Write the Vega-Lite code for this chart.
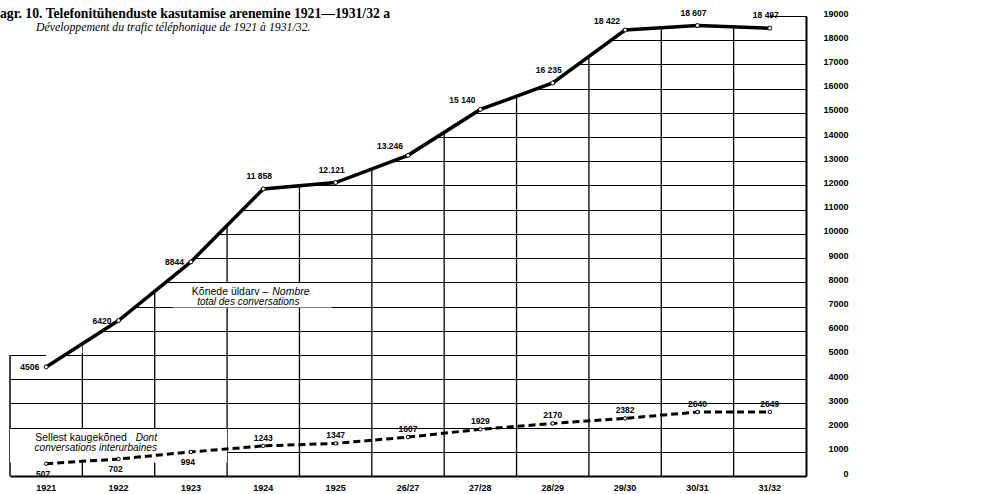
{
  "$schema": "https://vega.github.io/schema/vega-lite/v6.json",
  "width": 796,
  "height": 460,
  "autosize": {"type": "none"},
  "padding": {"left": 10, "top": 16, "right": 193, "bottom": 18},
  "background": "white",
  "title": {
    "text": "agr. 10. Telefonitühenduste kasutamise arenemine 1921—1931/32 a",
    "anchor": "start",
    "frame": "group",
    "offset": -12,
    "dx": -10,
    "font": "Liberation Serif",
    "fontSize": 13.7,
    "fontWeight": "bold",
    "color": "black"
  },
  "config": {"view": {"stroke": null}},
  "datasets": {
    "d": [
      {"cat": "1921", "total": 4506, "tl": "4506", "inter": 507},
      {"cat": "1922", "total": 6420, "tl": "6420", "inter": 702},
      {"cat": "1923", "total": 8844, "tl": "8844", "inter": 994},
      {"cat": "1924", "total": 11858, "tl": "11 858", "inter": 1243},
      {"cat": "1925", "total": 12121, "tl": "12.121", "inter": 1347},
      {"cat": "26/27", "total": 13246, "tl": "13.246", "inter": 1607},
      {"cat": "27/28", "total": 15140, "tl": "15 140", "inter": 1929},
      {"cat": "28/29", "total": 16235, "tl": "16 235", "inter": 2170},
      {"cat": "29/30", "total": 18422, "tl": "18 422", "inter": 2382},
      {"cat": "30/31", "total": 18607, "tl": "18 607", "inter": 2640},
      {"cat": "31/32", "total": 18497, "tl": "18 497", "inter": 2649}
    ]
  },
  "layer": [
    {
      "data": {"name": "d"},
      "transform": [{"filter": "datum.cat !== '1921'"}],
      "mark": {"type": "rule", "color": "black", "strokeWidth": 1.3},
      "encoding": {
        "x": {
          "field": "cat", "type": "ordinal", "bandPosition": 0, "sort": null, "title": null,
          "scale": {"domain": ["1921","1922","1923","1924","1925","26/27","27/28","28/29","29/30","30/31","31/32"], "paddingInner": 0, "paddingOuter": 0},
          "axis": {"title": null, "orient": "bottom", "domainColor": "black", "domainWidth": 2, "ticks": false, "grid": false, "labelAngle": 0, "labelFont": "Liberation Sans", "labelFontWeight": "bold", "labelFontSize": 9, "labelColor": "black", "labelPadding": 7}
        },
        "y": {
          "datum": 0, "type": "quantitative",
          "scale": {"domain": [0, 19000], "nice": false},
          "axis": {"title": null, "orient": "right", "values": [0,1000,2000,3000,4000,5000,6000,7000,8000,9000,10000,11000,12000,13000,14000,15000,16000,17000,18000,19000], "tickCount": 40, "labelOverlap": false, "format": "d", "grid": true, "gridColor": "black", "gridWidth": 1.2, "gridOpacity": 1, "domainColor": "black", "domainWidth": 2, "ticks": false, "labelAlign": "right", "labelPadding": 42, "labelFont": "Liberation Sans", "labelFontWeight": "bold", "labelFontSize": 9, "labelColor": "black", "labelOffset": -3}
        },
        "y2": {"datum": 19000}
      }
    },
    {
      "data": {"values": [{}]},
      "mark": {"type": "rule", "color": "black", "strokeWidth": 1.5},
      "encoding": {
        "x": {"datum": "1921", "type": "ordinal", "bandPosition": 0},
        "y": {"datum": 0, "type": "quantitative"},
        "y2": {"datum": 5000}
      }
    },
    {
      "data": {"name": "d"},
      "mark": {"type": "area", "fill": "white", "strokeWidth": 0},
      "encoding": {
        "x": {"field": "cat", "type": "ordinal", "sort": null, "title": null},
        "y": {"field": "total", "type": "quantitative", "title": null},
        "y2": {"datum": 19000}
      }
    },
    {
      "data": {"values": [{}]},
      "mark": {"type": "rect", "fill": "white"},
      "encoding": {
        "x": {"datum": "1921", "type": "ordinal"},
        "y": {"datum": 5060, "type": "quantitative"},
        "y2": {"datum": 19000}
      }
    },
    {
      "data": {"values": [{}]},
      "mark": {"type": "rect", "fill": "white"},
      "encoding": {
        "x": {"datum": "1921", "type": "ordinal", "bandPosition": 0},
        "x2": {"datum": "1923", "bandPosition": 1},
        "y": {"datum": 560, "type": "quantitative"},
        "y2": {"datum": 1940}
      }
    },
    {
      "data": {"values": [{}]},
      "mark": {"type": "rect", "fill": "white"},
      "encoding": {
        "x": {"datum": "1923", "type": "ordinal", "bandPosition": 0.25},
        "x2": {"datum": "1925", "bandPosition": 0.45},
        "y": {"datum": 6960, "type": "quantitative"},
        "y2": {"datum": 7960}
      }
    },
    {
      "data": {"values": [{"t": "Développement du trafic téléphonique de 1921 à 1931/32."}]},
      "mark": {"type": "text", "align": "left", "baseline": "alphabetic", "dx": 26, "dy": 15, "font": "Liberation Serif", "fontStyle": "italic", "fontSize": 11.8, "color": "black"},
      "encoding": {
        "x": {"datum": "1921", "type": "ordinal", "bandPosition": 0},
        "y": {"datum": 19000, "type": "quantitative"},
        "text": {"field": "t"}
      }
    },
    {
      "data": {"name": "d"},
      "mark": {"type": "line", "color": "black", "strokeWidth": 3.5},
      "encoding": {
        "x": {"field": "cat", "type": "ordinal", "sort": null, "title": null},
        "y": {"field": "total", "type": "quantitative", "title": null}
      }
    },
    {
      "data": {"name": "d"},
      "mark": {"type": "point", "shape": "circle", "filled": true, "fill": "white", "stroke": "black", "strokeWidth": 1, "size": 16, "opacity": 1},
      "encoding": {
        "x": {"field": "cat", "type": "ordinal", "sort": null, "title": null},
        "y": {"field": "total", "type": "quantitative", "title": null}
      }
    },
    {
      "data": {"name": "d"},
      "transform": [{"filter": {"field": "cat", "oneOf": ["1921", "1922", "1923"]}}],
      "mark": {"type": "text", "align": "right", "baseline": "middle", "dx": -7, "dy": 0, "font": "Liberation Sans", "fontWeight": "bold", "fontSize": 8.5, "color": "black"},
      "encoding": {
        "x": {"field": "cat", "type": "ordinal", "sort": null, "title": null},
        "y": {"field": "total", "type": "quantitative", "title": null},
        "text": {"field": "tl"}
      }
    },
    {
      "data": {"name": "d"},
      "transform": [{"filter": {"field": "cat", "oneOf": ["1924", "1925", "28/29", "30/31", "31/32"]}}],
      "mark": {"type": "text", "align": "center", "baseline": "middle", "dx": -4, "dy": -13, "font": "Liberation Sans", "fontWeight": "bold", "fontSize": 8.5, "color": "black"},
      "encoding": {
        "x": {"field": "cat", "type": "ordinal", "sort": null, "title": null},
        "y": {"field": "total", "type": "quantitative", "title": null},
        "text": {"field": "tl"}
      }
    },
    {
      "data": {"name": "d"},
      "transform": [{"filter": {"field": "cat", "oneOf": ["26/27", "27/28", "29/30"]}}],
      "mark": {"type": "text", "align": "center", "baseline": "middle", "dx": -18, "dy": -9, "font": "Liberation Sans", "fontWeight": "bold", "fontSize": 8.5, "color": "black"},
      "encoding": {
        "x": {"field": "cat", "type": "ordinal", "sort": null, "title": null},
        "y": {"field": "total", "type": "quantitative", "title": null},
        "text": {"field": "tl"}
      }
    },
    {
      "data": {"name": "d"},
      "mark": {"type": "line", "color": "black", "strokeWidth": 3, "strokeDash": [7, 4]},
      "encoding": {
        "x": {"field": "cat", "type": "ordinal", "sort": null, "title": null},
        "y": {"field": "inter", "type": "quantitative", "title": null}
      }
    },
    {
      "data": {"name": "d"},
      "mark": {"type": "point", "shape": "circle", "filled": true, "fill": "white", "stroke": "black", "strokeWidth": 1, "size": 12, "opacity": 1},
      "encoding": {
        "x": {"field": "cat", "type": "ordinal", "sort": null, "title": null},
        "y": {"field": "inter", "type": "quantitative", "title": null}
      }
    },
    {
      "data": {"name": "d"},
      "transform": [{"filter": {"field": "cat", "oneOf": ["1921", "1922", "1923"]}}],
      "mark": {"type": "text", "align": "center", "baseline": "middle", "dx": -3, "dy": 10, "font": "Liberation Sans", "fontWeight": "bold", "fontSize": 8.5, "color": "black"},
      "encoding": {
        "x": {"field": "cat", "type": "ordinal", "sort": null, "title": null},
        "y": {"field": "inter", "type": "quantitative", "title": null},
        "text": {"field": "inter", "type": "quantitative", "format": "d"}
      }
    },
    {
      "data": {"name": "d"},
      "transform": [{"filter": {"not": {"field": "cat", "oneOf": ["1921", "1922", "1923"]}}}],
      "mark": {"type": "text", "align": "center", "baseline": "middle", "dx": 0, "dy": -8, "font": "Liberation Sans", "fontWeight": "bold", "fontSize": 8.5, "color": "black"},
      "encoding": {
        "x": {"field": "cat", "type": "ordinal", "sort": null, "title": null},
        "y": {"field": "inter", "type": "quantitative", "title": null},
        "text": {"field": "inter", "type": "quantitative", "format": "d"}
      }
    },
    {
      "data": {"values": [{"t": "Kõnede üldarv –"}]},
      "mark": {"type": "text", "align": "right", "baseline": "middle", "dx": 5, "font": "Liberation Sans", "fontSize": 10.5, "color": "black"},
      "encoding": {
        "x": {"datum": "1924", "type": "ordinal"},
        "y": {"datum": 7600, "type": "quantitative"},
        "text": {"field": "t"}
      }
    },
    {
      "data": {"values": [{"t": "Nombre"}]},
      "mark": {"type": "text", "align": "left", "baseline": "middle", "dx": 9, "font": "Liberation Sans", "fontStyle": "italic", "fontSize": 10.5, "color": "black"},
      "encoding": {
        "x": {"datum": "1924", "type": "ordinal"},
        "y": {"datum": 7600, "type": "quantitative"},
        "text": {"field": "t"}
      }
    },
    {
      "data": {"values": [{"t": "total des conversations"}]},
      "mark": {"type": "text", "align": "center", "baseline": "middle", "dx": -15, "font": "Liberation Sans", "fontStyle": "italic", "fontSize": 10, "color": "black"},
      "encoding": {
        "x": {"datum": "1924", "type": "ordinal"},
        "y": {"datum": 7187, "type": "quantitative"},
        "text": {"field": "t"}
      }
    },
    {
      "data": {"values": [{"t": "Sellest kaugekõned"}]},
      "mark": {"type": "text", "align": "right", "baseline": "middle", "dx": -64, "font": "Liberation Sans", "fontSize": 10.5, "color": "black"},
      "encoding": {
        "x": {"datum": "1923", "type": "ordinal"},
        "y": {"datum": 1570, "type": "quantitative"},
        "text": {"field": "t"}
      }
    },
    {
      "data": {"values": [{"t": "Dont"}]},
      "mark": {"type": "text", "align": "right", "baseline": "middle", "dx": -34, "font": "Liberation Sans", "fontStyle": "italic", "fontSize": 10, "color": "black"},
      "encoding": {
        "x": {"datum": "1923", "type": "ordinal"},
        "y": {"datum": 1570, "type": "quantitative"},
        "text": {"field": "t"}
      }
    },
    {
      "data": {"values": [{"t": "conversations interurbaines"}]},
      "mark": {"type": "text", "align": "right", "baseline": "middle", "dx": -34, "font": "Liberation Sans", "fontStyle": "italic", "fontSize": 10, "color": "black"},
      "encoding": {
        "x": {"datum": "1923", "type": "ordinal"},
        "y": {"datum": 1157, "type": "quantitative"},
        "text": {"field": "t"}
      }
    }
  ]
}
